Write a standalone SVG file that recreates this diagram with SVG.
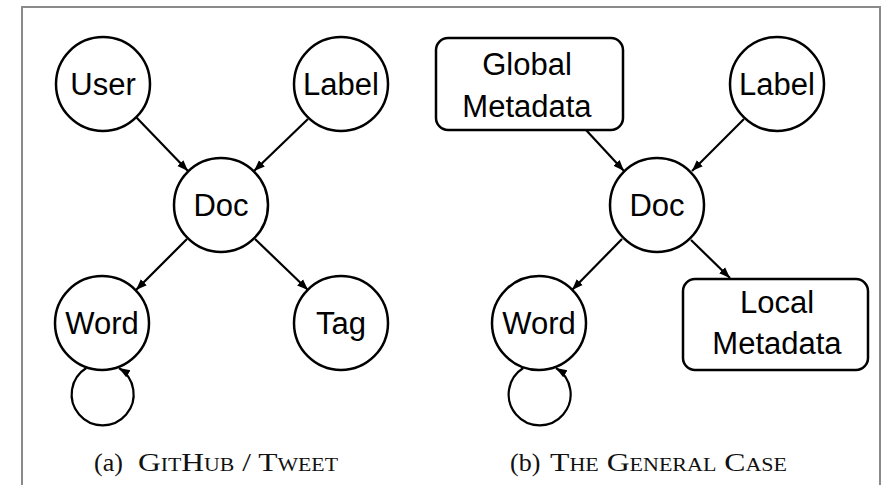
<svg xmlns="http://www.w3.org/2000/svg" width="889" height="485" viewBox="0 0 889 485">
<defs>
<marker id="arr" markerUnits="userSpaceOnUse" markerWidth="12" markerHeight="10" refX="11" refY="5" orient="auto">
<path d="M0,0.8 L11,5 L0,9.2 z" fill="#000"/>
</marker>
<style>
.n{fill:#fff;stroke:#000;stroke-width:2.5}
.t{font-family:"Liberation Sans",Arial,sans-serif;font-size:31px;fill:#000;text-anchor:middle}
.e{fill:none;stroke:#000;stroke-width:2.2;marker-end:url(#arr)}
.cap{font-family:"Liberation Serif","Times New Roman",serif;font-size:26px;fill:#111}
.sc{font-variant:small-caps}
</style>
</defs>
<rect x="0" y="0" width="889" height="485" fill="#fff"/>
<path d="M22,490 L22,7 L880,7 L880,490" fill="none" stroke="#8a8a8a" stroke-width="2"/>
<g id="connectors">
<line class="e" x1="136" y1="117" x2="188" y2="171"/>
<line class="e" x1="308" y1="119" x2="254" y2="171"/>
<line class="e" x1="187" y1="239" x2="136" y2="290"/>
<line class="e" x1="255" y1="239" x2="308" y2="290"/>
<path class="e" d="M86.3,368 A31,31 0 1 0 119,368"/>
<line class="e" x1="586" y1="130" x2="624" y2="171"/>
<line class="e" x1="744" y1="119" x2="692" y2="171"/>
<line class="e" x1="622" y1="239" x2="572" y2="290"/>
<line class="e" x1="691" y1="240" x2="730" y2="278"/>
<path class="e" d="M523.3,368 A31,31 0 1 0 556,368"/>
</g>
<g id="a-user"><circle class="n" cx="103" cy="84" r="47"/><text class="t" x="103" y="95">User</text></g>
<g id="a-label"><circle class="n" cx="341" cy="84" r="47"/><text class="t" x="341" y="95">Label</text></g>
<g id="a-doc"><circle class="n" cx="221" cy="205" r="47"/><text class="t" x="221" y="216">Doc</text></g>
<g id="a-word"><circle class="n" cx="102" cy="323" r="47"/><text class="t" x="102" y="334">Word</text></g>
<g id="a-tag"><circle class="n" cx="341" cy="323" r="47"/><text class="t" x="341" y="334">Tag</text></g>
<g id="b-global"><rect class="n" x="436" y="38" width="187" height="92" rx="12"/><text class="t" x="527" y="75">Global</text><text class="t" x="527" y="117">Metadata</text></g>
<g id="b-label"><circle class="n" cx="777" cy="84" r="47"/><text class="t" x="777" y="95">Label</text></g>
<g id="b-doc"><circle class="n" cx="657" cy="205" r="47"/><text class="t" x="657" y="216">Doc</text></g>
<g id="b-word"><circle class="n" cx="539" cy="323" r="47"/><text class="t" x="539" y="334">Word</text></g>
<g id="b-local"><rect class="n" x="683" y="279" width="185" height="91" rx="12"/><text class="t" x="777" y="313">Local</text><text class="t" x="777" y="354">Metadata</text></g>
<text class="cap" y="471"><tspan x="94">(a)</tspan><tspan class="sc" x="138" textLength="200" lengthAdjust="spacingAndGlyphs">GitHub / Tweet</tspan></text>
<text class="cap" y="471"><tspan x="510">(b)</tspan><tspan class="sc" x="550" textLength="237" lengthAdjust="spacingAndGlyphs">The General Case</tspan></text>
</svg>
